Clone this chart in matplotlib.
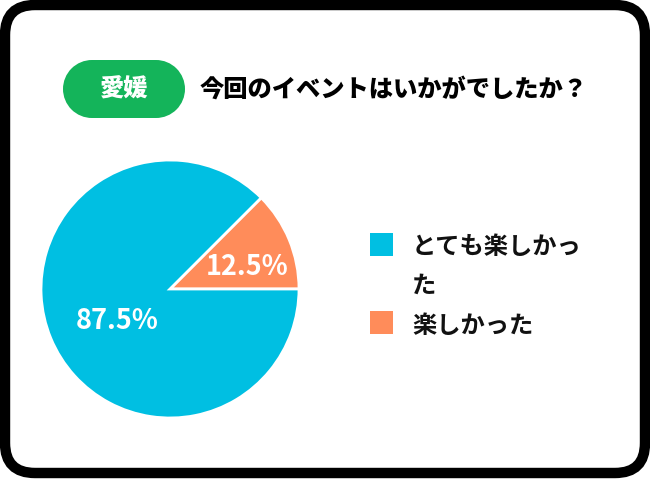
import matplotlib
matplotlib.use("Agg")
import matplotlib.pyplot as plt
from matplotlib.patches import FancyBboxPatch, Circle, Rectangle

plt.rcParams['font.family'] = ['Noto Sans CJK JP', 'DejaVu Sans']

region = "愛媛"
title = "今回のイベントはいかがでしたか？"
categories = ["とても楽しかっ\nた", "楽しかった"]
values = [87.5, 12.5]
colors = ["#00BFE2", "#FF8C5A"]

W, H = 650, 480
fig = plt.figure(figsize=(W / 100, H / 100), dpi=100)
bg = fig.add_axes([0, 0, 1, 1])
bg.set_xlim(0, W)
bg.set_ylim(H, 0)
bg.axis("off")

# outer frame
frame = FancyBboxPatch((5 + 30, 5 + 30), 640 - 60, 468 - 60,
                       boxstyle="round,pad=30", fc="white", ec="black", lw=7.5)
bg.add_patch(frame)

# green pill (stadium)
green = "#14B45A"
bg.add_patch(Rectangle((92, 60), 64, 58, fc=green, ec="none"))
bg.add_patch(Circle((92, 89), 29, fc=green, ec="none"))
bg.add_patch(Circle((156, 89), 29, fc=green, ec="none"))
bg.text(124, 89, region, color="white", fontsize=17.5, fontweight="heavy",
        ha="center", va="center")
bg.text(200, 89, title, color="black", fontsize=17.5, fontweight="heavy",
        ha="left", va="center")

# pie
cx, cy, r = 170, 289, 129
pax = fig.add_axes([(cx - r) / W, (H - cy - r) / H, 2 * r / W, 2 * r / H])
pax.pie([values[1], values[0]], colors=[colors[1], colors[0]],
        startangle=0, counterclock=True,
        wedgeprops=dict(edgecolor="white", linewidth=2))
pax.set_xlim(-1, 1)
pax.set_ylim(-1, 1)
pax.set_aspect("equal")
pax.axis("off")

# percentage labels (drawn on top of the pie)
pax.text(247, 267, f"{values[1]}%", color="white", fontsize=19.5, fontweight="bold",
         ha="center", va="center", transform=bg.transData, clip_on=False)
pax.text(117, 321, f"{values[0]}%", color="white", fontsize=19.5, fontweight="bold",
         ha="center", va="center", transform=bg.transData, clip_on=False)

# legend
bg.add_patch(Rectangle((370, 233), 23, 23, fc=colors[0], ec="none"))
bg.add_patch(Rectangle((370, 311), 23, 23, fc=colors[1], ec="none"))
line1, line2 = categories[0].split("\n")
bg.text(412, 247, line1, color="#111111", fontsize=17.5, fontweight="bold",
        ha="left", va="center")
bg.text(412, 286, line2, color="#111111", fontsize=17.5, fontweight="bold",
        ha="left", va="center")
bg.text(412, 326, categories[1], color="#111111", fontsize=17.5, fontweight="bold",
        ha="left", va="center")

fig.savefig("out.png", dpi=100)
